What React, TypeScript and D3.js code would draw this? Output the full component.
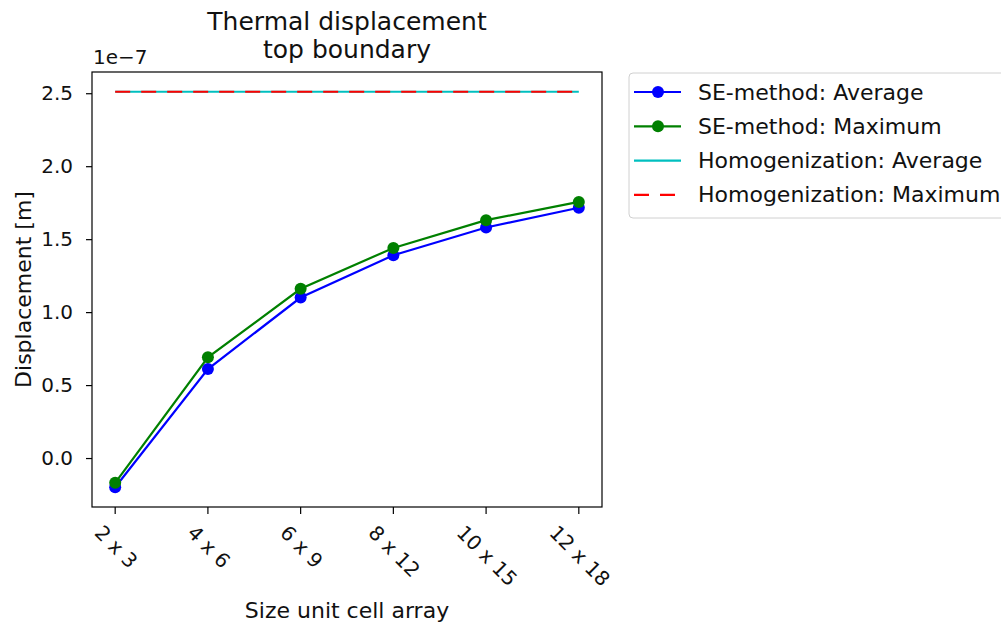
import React, { useEffect, useRef } from "react";
import * as d3 from "d3";

const categories = ["2 x 3", "4 x 6", "6 x 9", "8 x 12", "10 x 15", "12 x 18"];
// values in units of 1e-7 m
const seAverage = [-0.2, 0.61, 1.1, 1.39, 1.58, 1.715];
const seMaximum = [-0.17, 0.69, 1.16, 1.44, 1.63, 1.755];
const homAverage = [2.51, 2.51, 2.51, 2.51, 2.51, 2.51];
const homMaximum = [2.51, 2.51, 2.51, 2.51, 2.51, 2.51];
const yTicks = [0, 0.5, 1.0, 1.5, 2.0, 2.5];

const legendItems = [
  { label: "SE-method: Average", color: "#0000ff", marker: true, dash: null },
  { label: "SE-method: Maximum", color: "#008000", marker: true, dash: null },
  { label: "Homogenization: Average", color: "#00bfbf", marker: false, dash: null },
  { label: "Homogenization: Maximum", color: "#ff0000", marker: false, dash: "15,11" },
];

const FONT = "DejaVu Sans, sans-serif";
const TICK_FS = 20;
const LABEL_FS = 22;

const App = () => {
  const ref = useRef<SVGSVGElement | null>(null);
  const width = 1001;
  const height = 628;
  const m = { left: 92, right: 602, top: 72, bottom: 507 };

  useEffect(() => {
    const svg = d3.select(ref.current);
    svg.selectAll("*").remove();

    const x = d3
      .scaleLinear()
      .domain([-0.25, categories.length - 1 + 0.25])
      .range([m.left, m.right]);
    const allVals = [...seAverage, ...seMaximum, ...homAverage];
    const lo = d3.min(allVals) as number;
    const hi = d3.max(allVals) as number;
    const pad = (hi - lo) * 0.05;
    const y = d3.scaleLinear().domain([lo - pad, hi + pad]).range([m.bottom, m.top]);

    const line = d3
      .line<number>()
      .x((_, i) => x(i))
      .y((d) => y(d));

    // y axis
    const yAxis = d3
      .axisLeft(y)
      .tickValues(yTicks)
      .tickFormat((d) => d3.format(".1f")(d as number))
      .tickSize(6)
      .tickPadding(13);
    const gy = svg.append("g").attr("transform", `translate(${m.left},0)`).call(yAxis);
    gy.select(".domain").remove();
    gy.selectAll("line").attr("stroke", "#000").attr("stroke-width", 1.2);
    gy.selectAll("text")
      .attr("font-family", FONT)
      .attr("font-size", TICK_FS)
      .attr("fill", "#111");

    // x axis ticks, rotated labels centred under each tick
    const canvas = document.createElement("canvas");
    const ctx = canvas.getContext("2d")!;
    ctx.font = `${TICK_FS}px ${FONT}`;
    const gx = svg.append("g");
    categories.forEach((c, i) => {
      gx.append("line")
        .attr("x1", x(i))
        .attr("x2", x(i))
        .attr("y1", m.bottom)
        .attr("y2", m.bottom + 7)
        .attr("stroke", "#000")
        .attr("stroke-width", 1.2);
      const w = ctx.measureText(c).width;
      const top = m.bottom + 15;
      const cy = top + ((w + TICK_FS) * Math.SQRT1_2) / 2;
      gx.append("text")
        .attr("transform", `translate(${x(i) + 1},${cy}) rotate(45)`)
        .attr("text-anchor", "middle")
        .attr("dominant-baseline", "central")
        .attr("font-family", FONT)
        .attr("font-size", TICK_FS)
        .attr("fill", "#111")
        .text(c);
    });

    // data lines
    svg.append("path")
      .datum(homAverage)
      .attr("d", line)
      .attr("fill", "none")
      .attr("stroke", "#00bfbf")
      .attr("stroke-width", 2.2);
    svg.append("path")
      .datum(homMaximum)
      .attr("d", line)
      .attr("fill", "none")
      .attr("stroke", "#ff0000")
      .attr("stroke-width", 2.2)
      .attr("stroke-dasharray", "15,11");

    const series = [
      { data: seAverage, color: "#0000ff" },
      { data: seMaximum, color: "#008000" },
    ];
    series.forEach((s) => {
      svg.append("path")
        .datum(s.data)
        .attr("d", line)
        .attr("fill", "none")
        .attr("stroke", s.color)
        .attr("stroke-width", 2.2);
      svg.append("g")
        .selectAll("circle")
        .data(s.data)
        .join("circle")
        .attr("cx", (_, i) => x(i))
        .attr("cy", (d) => y(d))
        .attr("r", 6)
        .attr("fill", s.color);
    });

    // frame
    svg.append("rect")
      .attr("x", m.left)
      .attr("y", m.top)
      .attr("width", m.right - m.left)
      .attr("height", m.bottom - m.top)
      .attr("fill", "none")
      .attr("stroke", "#000")
      .attr("stroke-width", 1.2);

    // texts
    const cx = (m.left + m.right) / 2;
    svg.append("text")
      .attr("x", cx)
      .attr("y", 30)
      .attr("text-anchor", "middle")
      .attr("font-family", FONT)
      .attr("font-size", 25)
      .attr("fill", "#111")
      .text("Thermal displacement");
    svg.append("text")
      .attr("x", cx)
      .attr("y", 58)
      .attr("text-anchor", "middle")
      .attr("font-family", FONT)
      .attr("font-size", 25)
      .attr("fill", "#111")
      .text("top boundary");
    svg.append("text")
      .attr("x", m.left + 1)
      .attr("y", 64)
      .attr("font-family", FONT)
      .attr("font-size", 20)
      .attr("fill", "#111")
      .text("1e\u22127");
    svg.append("text")
      .attr("transform", `translate(31,${(m.top + m.bottom) / 2}) rotate(-90)`)
      .attr("text-anchor", "middle")
      .attr("font-family", FONT)
      .attr("font-size", LABEL_FS)
      .attr("fill", "#111")
      .text("Displacement [m]");
    svg.append("text")
      .attr("x", cx)
      .attr("y", 618)
      .attr("text-anchor", "middle")
      .attr("font-family", FONT)
      .attr("font-size", LABEL_FS)
      .attr("fill", "#111")
      .text("Size unit cell array");

    // legend
    const lg = svg.append("g").attr("transform", "translate(629,73)");
    lg.append("rect")
      .attr("width", 400)
      .attr("height", 145)
      .attr("rx", 4)
      .attr("fill", "#fff")
      .attr("stroke", "#d0d0d0")
      .attr("stroke-width", 1);
    legendItems.forEach((it, i) => {
      const yy = 19 + i * 34.3;
      lg.append("line")
        .attr("x1", 5)
        .attr("x2", 52)
        .attr("y1", yy)
        .attr("y2", yy)
        .attr("stroke", it.color)
        .attr("stroke-width", 2.2)
        .attr("stroke-dasharray", it.dash ?? null);
      if (it.marker) {
        lg.append("circle").attr("cx", 29).attr("cy", yy).attr("r", 6).attr("fill", it.color);
      }
      lg.append("text")
        .attr("x", 69)
        .attr("y", yy)
        .attr("dominant-baseline", "central")
        .attr("font-family", FONT)
        .attr("font-size", LABEL_FS)
        .attr("fill", "#111")
        .text(it.label);
    });
  }, []);

  return (
    <svg
      ref={ref}
      width={width}
      height={height}
      style={{ position: "absolute", left: 0, top: 0, background: "#fff" }}
    />
  );
};

export default App;
